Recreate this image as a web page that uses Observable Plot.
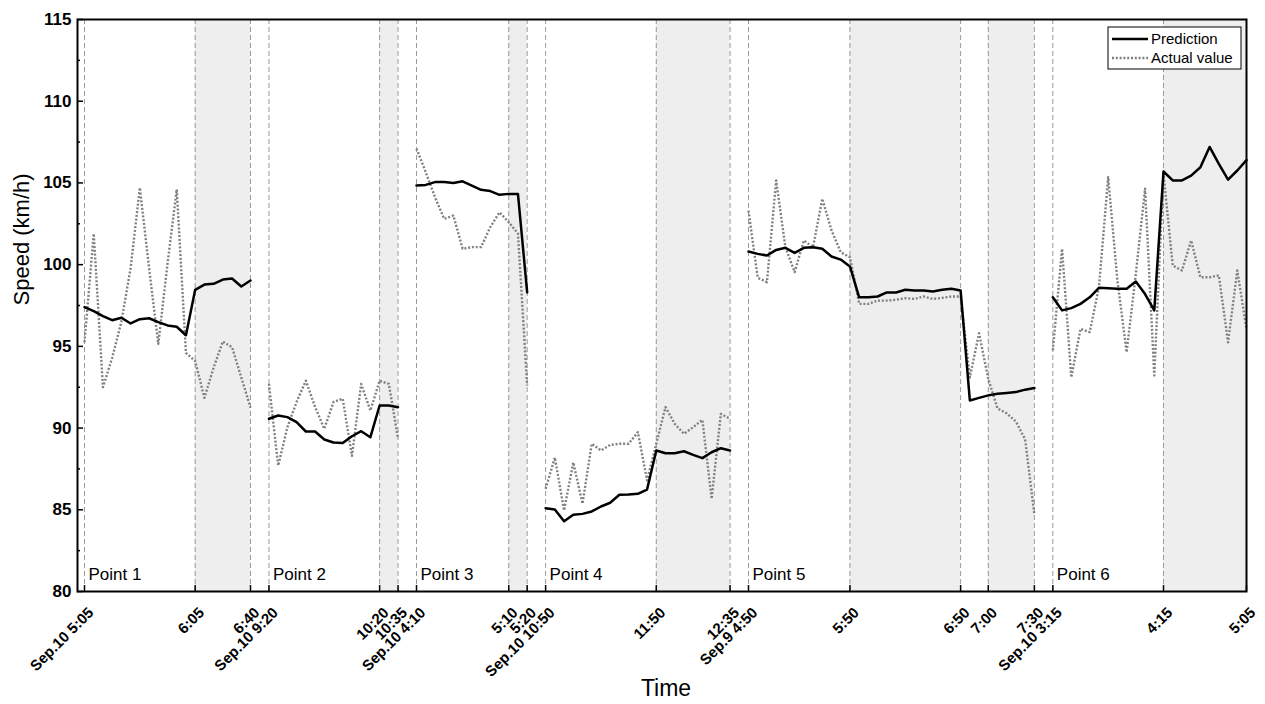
<!DOCTYPE html>
<html>
<head>
<meta charset="utf-8">
<script src="https://cdn.jsdelivr.net/npm/d3@7"></script>
<script src="https://cdn.jsdelivr.net/npm/@observablehq/plot@0.6"></script>
<style>
  html, body { margin: 0; padding: 0; background: #fff; }
  #chart svg { display: block; font-family: "Liberation Sans", Arial, sans-serif; }
</style>
</head>
<body>
<div id="chart"></div>
<script>
// ---- data ----
const tickIndex = [0, 12, 18, 20, 32, 34, 36, 46, 48, 50, 62, 70, 72, 83, 95, 98, 103, 105, 117, 126];
const tickLabels = ["Sep.10 5:05", "6:05", "6:40", "Sep.10 9:20", "10:20", "10:35", "Sep.10 4:10", "5:10", "5:20",
  "Sep.10 10:50", "11:50", "12:35", "Sep.9 4:50", "5:50", "6:50", "7:00", "7:30", "Sep.10 3:15", "4:15", "5:05"];
const yTicks = [80, 85, 90, 95, 100, 105, 110, 115];
const yMinorTicks = [82.5, 87.5, 92.5, 97.5, 102.5, 107.5, 112.5];
const segmentNames = ["Point 1", "Point 2", "Point 3", "Point 4", "Point 5", "Point 6"];
const segmentStart = [0, 20, 36, 50, 72, 105];
const shadeStart = [12, 32, 46, 62, 83, 98, 117];
const shadeEnd = [18, 34, 48, 70, 95, 103, 126];

const pred1 = [97.4, 97.15, 96.85, 96.6, 96.75, 96.4, 96.66, 96.72, 96.48, 96.28, 96.2, 95.68, 98.46, 98.78, 98.83, 99.09, 99.15, 98.66, 99.03];
const act1 = [95.25, 101.9, 92.5, 94.3, 96.5, 99.8, 104.7, 99.8, 95.15, 100.05, 104.6, 94.6, 94.1, 91.85, 93.7, 95.3, 94.95, 93.1, 91.25];
const pred2 = [90.57, 90.77, 90.67, 90.36, 89.79, 89.79, 89.3, 89.12, 89.08, 89.5, 89.81, 89.44, 91.38, 91.38, 91.28];
const act2 = [92.7, 87.7, 90.05, 91.6, 92.9, 91.3, 89.95, 91.6, 91.8, 88.3, 92.7, 91.07, 92.9, 92.7, 89.35];
const pred3 = [104.84, 104.88, 105.05, 105.05, 104.99, 105.1, 104.84, 104.58, 104.5, 104.27, 104.33, 104.33, 98.3];
const act3 = [107.1, 105.66, 104.13, 102.8, 103.0, 100.97, 101.07, 101.07, 102.3, 103.2, 102.6, 101.9, 92.6];
const pred4 = [85.1, 85.02, 84.3, 84.7, 84.75, 84.9, 85.2, 85.43, 85.92, 85.94, 85.98, 86.24, 88.63, 88.46, 88.46, 88.58, 88.36, 88.16, 88.52, 88.77, 88.63];
const act4 = [86.28, 88.2, 84.96, 87.9, 85.37, 89.04, 88.63, 88.97, 89.04, 89.04, 89.75, 86.8, 89.04, 91.28, 90.26, 89.65, 90.05, 90.5, 85.67, 90.87, 90.57];
const pred5 = [100.8, 100.66, 100.56, 100.9, 101.03, 100.72, 101.03, 101.07, 100.97, 100.5, 100.31, 99.89, 98.0, 98.0, 98.05, 98.3, 98.3, 98.46, 98.42, 98.42, 98.36, 98.46, 98.52, 98.42,
  91.69, 91.85, 92.0, 92.1, 92.15, 92.2, 92.35, 92.45];
const act5 = [103.3, 99.2, 98.93, 105.15, 101.07, 99.54, 101.48, 101.07, 104.03, 102.1, 100.76, 100.45, 97.6, 97.6, 97.8, 97.8, 97.85, 97.95, 97.9, 98.05, 97.9, 97.97, 98.05, 98.05,
  93.1, 95.8, 93.0, 91.2, 90.9, 90.4, 89.3, 84.7];
const pred6 = [98.0, 97.2, 97.34, 97.6, 98.0, 98.58, 98.56, 98.52, 98.52, 98.97, 98.2, 97.2, 105.7, 105.15, 105.15, 105.45, 105.96, 107.2, 106.17, 105.2, 105.76, 106.4];
const act6 = [94.75, 100.97, 93.1, 96.07, 95.87, 98.62, 105.35, 99.03, 94.64, 99.44, 104.64, 93.22, 105.56, 99.95, 99.64, 101.48, 99.23, 99.23, 99.34, 95.25, 99.64, 96.07];

// ---- tables built from the arrays ----
const preds = [pred1, pred2, pred3, pred4, pred5, pred6];
const acts = [act1, act2, act3, act4, act5, act6];
const rows = segmentStart.flatMap((s, k) => preds[k].map((p, i) => ({x: s + i, pred: p, actual: acts[k][i], seg: k})));
const ticks = tickIndex.map((x, i) => ({x, label: tickLabels[i]}));
const shades = shadeStart.map((s, i) => ({x1: s, x2: shadeEnd[i]}));
const segs = segmentStart.map((s, i) => ({x: s, name: segmentNames[i]}));

const W = 1265, H = 704, ML = 77, MR = 19, MT = 19, MB = 113;
const innerW = W - ML - MR, innerH = H - MT - MB;
const DOT = "2,1.8";
const DOTCOLOR = "#808080";

const svg = Plot.plot({
  width: W, height: H,
  marginLeft: ML, marginRight: MR, marginTop: MT, marginBottom: MB,
  style: {fontFamily: "'Liberation Sans', Arial, sans-serif", background: "white", overflow: "visible"},
  x: {domain: [-0.76, 126], axis: null},
  y: {domain: [80, 115], axis: null},
  marks: [
    Plot.rect(shades, {x1: "x1", x2: "x2", y1: 80, y2: 115, fill: "#eeeeee"}),
    Plot.ruleX(tickIndex, {stroke: "#9a9a9a", strokeWidth: 1, strokeDasharray: "5,3"}),
    Plot.line(rows, {x: "x", y: "actual", z: "seg", stroke: DOTCOLOR, strokeWidth: 2.4, strokeDasharray: DOT, strokeLinecap: "butt"}),
    Plot.line(rows, {x: "x", y: "pred", z: "seg", stroke: "black", strokeWidth: 2.5}),
    Plot.text(segs, {x: "x", text: "name", frameAnchor: "bottom", dx: 4, dy: -12, textAnchor: "start", fontSize: 17, fill: "black"}),
    // ticks pointing inward
    Plot.tickY(yTicks, {y: d => d, insetRight: innerW - 6, stroke: "black", strokeWidth: 1.5}),
    Plot.tickY(yMinorTicks, {y: d => d, insetRight: innerW - 3, stroke: "black", strokeWidth: 1.5}),
    Plot.tickX(tickIndex, {x: d => d, insetTop: innerH - 6, stroke: "black", strokeWidth: 1.5}),
    // tick labels
    Plot.text(yTicks, {y: d => d, text: d => String(d), frameAnchor: "left", dx: -6, textAnchor: "end", fontWeight: "bold", fontSize: 17, fill: "black"}),
    Plot.text(ticks, {x: "x", text: "label", frameAnchor: "bottom", rotate: -45, textAnchor: "end", dx: 10, dy: 22, fontWeight: "bold", fontSize: 15, fill: "black"}),
    // axis titles
    Plot.text(["Speed (km/h)"], {frameAnchor: "left", text: d => d, rotate: -90, dx: -56, fontSize: 22, fill: "black"}),
    Plot.text(["Time"], {frameAnchor: "bottom", text: d => d, dx: 4, dy: 104, fontSize: 23, fill: "black"}),
    Plot.frame({stroke: "black", strokeWidth: 2})
  ]
});

// legend (drawn inside the plot frame, top right)
const g = d3.select(svg).append("g")
  .attr("font-family", "'Liberation Sans', Arial, sans-serif")
  .attr("text-anchor", "start");
const lx = W - MR - 138, ly = MT + 8;
g.append("rect").attr("x", lx).attr("y", ly).attr("width", 133).attr("height", 42)
  .attr("fill", "white").attr("stroke", "black").attr("stroke-width", 1);
const legendItems = [
  {label: "Prediction", stroke: "black", width: 2.5, dash: null},
  {label: "Actual value", stroke: DOTCOLOR, width: 2.4, dash: DOT}
];
legendItems.forEach((it, i) => {
  const yy = ly + 12 + i * 19;
  const ln = g.append("line").attr("x1", lx + 4).attr("x2", lx + 40).attr("y1", yy).attr("y2", yy)
    .attr("stroke", it.stroke).attr("stroke-width", it.width);
  if (it.dash) ln.attr("stroke-dasharray", it.dash);
  g.append("text").attr("x", lx + 43).attr("y", yy).attr("dy", "0.35em").attr("font-size", 15)
    .attr("text-anchor", "start").attr("fill", "black").text(it.label);
});

document.getElementById("chart").appendChild(svg);
</script>
</body>
</html>
